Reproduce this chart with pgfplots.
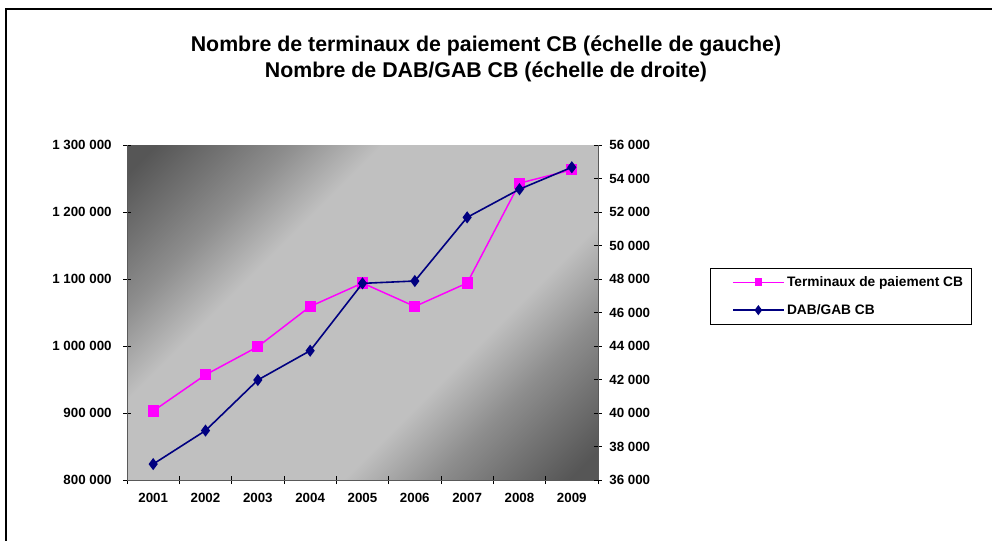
\documentclass[border=0pt]{standalone}
\usepackage{pgfplots}
\pgfplotsset{compat=1.18}
\usepackage{fontspec}
\setmainfont{Liberation Sans}
\definecolor{dk}{RGB}{86,86,86}
\definecolor{m1}{RGB}{118,118,118}
\definecolor{m2}{RGB}{142,142,142}
\definecolor{lt}{RGB}{192,192,192}
\definecolor{pinkline}{RGB}{255,0,255}
\definecolor{navyline}{RGB}{0,0,128}
\pgfdeclarehorizontalshading{bgshade}{100bp}{color(0bp)=(dk); color(17bp)=(dk); color(24bp)=(m1); color(29bp)=(m2); color(37bp)=(lt); color(63bp)=(lt); color(71bp)=(m2); color(76bp)=(m1); color(83bp)=(dk); color(100bp)=(dk)}
\begin{document}
\begin{tikzpicture}
\useasboundingbox (0pt,0pt) rectangle (744pt,405pt);
\fill[white] (0pt,0pt) rectangle (744pt,405pt);
\draw[line width=1.5pt] (4.5pt,-5pt) -- (4.5pt,397.9pt) -- (750pt,397.9pt);
\node[font=\bfseries\fontsize{16}{19.5}\selectfont, align=center] at (364.5pt,360.75pt) {Nombre de terminaux de paiement CB (échelle de gauche)\\Nombre de DAB/GAB CB (échelle de droite)};
\begin{axis}[
  at={(95.25pt,45pt)}, anchor=south west,
  scale only axis, width=353.25pt, height=251.25pt,
  xmin=-0.5, xmax=8.5, ymin=800000, ymax=1300000,
  axis y line*=left, axis x line*=bottom,
  axis line style={-, thin, gray!70!black},
  xtick={0,...,8}, xticklabels={2001,2002,2003,2004,2005,2006,2007,2008,2009},
  major x tick style={draw=none},
  minor xtick={-0.5,0.5,...,8.5},
  minor tick length=6pt,
  ytick distance=100000,
  tick align=center, major tick length=6pt,
  tick style={black, thin},
  /pgf/number format/.cd, fixed, precision=0, assume math mode=true, 1000 sep={\ },
  /pgfplots/.cd,
  scaled y ticks=false,
  ticklabel style={font=\bfseries\fontsize{10}{12}\selectfont},
  xticklabel style={yshift=-3pt},
  yticklabel style={xshift=-5pt},
  axis background/.style={shading=bgshade, shading angle=-45},
  legend style={at={(1.238,0.633)}, anchor=north west, draw=black, thin,
    font=\bfseries\fontsize{10.3}{12}\selectfont, inner xsep=4pt, inner ysep=4pt, row sep=8pt},
  legend cell align=left,
  legend image code/.code={\path (0pt,0pt); \draw[mark repeat=2,mark phase=2] plot coordinates {(12.5pt,0pt) (31.5pt,0pt) (50.5pt,0pt)};},
]
\addlegendimage{pinkline, line width=1pt, mark=square*, mark size=2.3pt, mark options={solid}}
\addlegendentry{Terminaux de paiement CB}
\addlegendimage{navyline, line width=1pt, mark=diamond*, mark size=3pt}
\addlegendentry{DAB/GAB CB}
\addplot[pinkline, line width=1.1pt, mark=square*, mark size=3.6pt] coordinates {
(0,903000) (1,957000) (2,999000) (3,1059000) (4,1094000) (5,1059000) (6,1094000) (7,1243000) (8,1263000)};
\end{axis}
\begin{axis}[
  at={(95.25pt,45pt)}, anchor=south west,
  scale only axis, width=353.25pt, height=251.25pt,
  xmin=-0.5, xmax=8.5, ymin=36000, ymax=56000,
  axis y line*=right, axis x line=none,
  axis line style={-, thin, gray!70!black},
  ytick distance=2000,
  tick align=center, major tick length=6pt,
  tick style={black, thin},
  /pgf/number format/.cd, fixed, precision=0, assume math mode=true, 1000 sep={\ },
  /pgfplots/.cd,
  scaled y ticks=false,
  ticklabel style={font=\bfseries\fontsize{10}{12}\selectfont},
  yticklabel style={xshift=2pt},
]
\addplot[navyline, line width=1.2pt, mark=diamond*, mark size=3.6pt] coordinates {
(0,36950) (1,38950) (2,41970) (3,43720) (4,47740) (5,47880) (6,51680) (7,53360) (8,54670)};
\end{axis}
\end{tikzpicture}
\end{document}
